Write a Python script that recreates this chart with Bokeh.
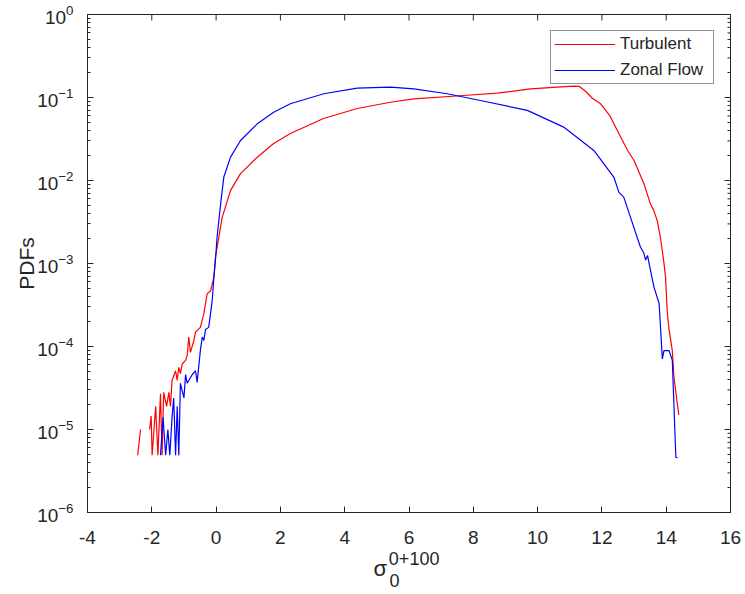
import numpy as np
from bokeh.plotting import figure
from bokeh.models import Range1d, FixedTicker, LinearAxis
from bokeh.embed import file_html
from bokeh.resources import INLINE

nan = float("nan")

# Turbulent PDF (red); nan = empty bin (log of zero -> gap)
turb_x = [-2.44, -2.35, -2.21, -2.07, -2.02, -1.99, -1.88, -1.81, -1.73, -1.68, -1.63,
          -1.54, -1.47, -1.42, -1.37, -1.26, -1.21, -1.16, -1.11, -1.05, -0.95, -0.90,
          -0.85, -0.80, -0.69, -0.64, -0.54, -0.49, -0.38, -0.28, -0.17, -0.07, -0.02,
          0.19, 0.45, 0.76, 1.28, 1.79, 2.31, 3.34, 4.39, 5.42, 6.15, 7.70, 8.74, 9.78,
          10.6, 11.13, 11.3, 11.5, 11.7, 11.96, 12.25, 12.48, 12.8, 13.0, 13.31, 13.51,
          13.61, 13.72, 13.82, 13.92, 13.98, 14.03, 14.08, 14.19, 14.24, 14.39]
turb_y = [4.9e-6, 1.0e-5, nan, 1.0e-5, 1.45e-5, 4.9e-6, 1.9e-5, 4.9e-6, 2.7e-5, 4.9e-6, 2.8e-5,
          1.9e-5, 2.8e-5, 1.9e-5, 3.9e-5, 5.1e-5, 3.9e-5, 5.6e-5, 4.7e-5, 6.2e-5, 6.8e-5, 7.8e-5,
          1.3e-4, 8.5e-5, 1.18e-4, 1.49e-4, 1.63e-4, 1.7e-4, 2.5e-4, 4.3e-4, 4.7e-4, 6.8e-4, 1.19e-3,
          3.6e-3, 7.6e-3, 0.0121, 0.0191, 0.0279, 0.0368, 0.0558, 0.0737, 0.0877, 0.0964, 0.1057,
          0.1127, 0.127, 0.133, 0.137, 0.136, 0.118, 0.098, 0.084, 0.060, 0.040, 0.023, 0.0174,
          0.0091, 0.0052, 0.0044, 0.0033, 2.07e-3, 1.09e-3, 6.8e-4, 2.7e-4, 1.7e-4, 8.9e-5,
          4.3e-5, 1.5e-5]

# Zonal Flow PDF (blue)
zonal_x = [-1.73, -1.65, -1.57, -1.50, -1.44, -1.37, -1.32, -1.26, -1.21, -1.16, -1.11,
           -1.00, -0.95, -0.90, -0.85, -0.74, -0.64, -0.59, -0.49, -0.43, -0.38, -0.33,
           -0.23, -0.12, -0.07, -0.02, 0.03, 0.14, 0.24, 0.45, 0.76, 1.28, 1.79, 2.31,
           3.35, 4.39, 5.42, 6.15, 7.19, 8.22, 9.68, 10.81, 11.75, 12.37, 12.53, 12.68,
           12.89, 13.20, 13.30, 13.36, 13.42, 13.48, 13.62, 13.78, 13.88, 13.93, 14.09,
           14.19, 14.30, 14.35]
zonal_y = [4.9e-6, 1.4e-5, 4.9e-6, 1.0e-5, 4.9e-6, 1.4e-5, 2.4e-5, 4.9e-6, 1.9e-5, 4.9e-6, 3.6e-5,
           2.4e-5, 4.6e-5, 3.6e-5, 3.9e-5, 4.6e-5, 5.1e-5, 3.7e-5, 8.9e-5, 1.3e-4, 1.18e-4, 1.6e-4,
           1.7e-4, 3.6e-4, 6.8e-4, 1.1e-3, 2.07e-3, 5.2e-3, 0.011, 0.0191, 0.0303, 0.0482, 0.0665,
           0.084, 0.111, 0.1295, 0.133, 0.127, 0.111, 0.092, 0.070, 0.044, 0.023, 0.011, 7.2e-3,
           6.3e-3, 3.6e-3, 1.57e-3, 1.35e-3, 1.1e-3, 1.25e-3, 0.95e-3, 5.2e-4, 3.3e-4, 7.1e-5,
           8.9e-5, 8.9e-5, 6.8e-5, 4.6e-6, 4.6e-6]

x_ticks = [-4, -2, 0, 2, 4, 6, 8, 10, 12, 14, 16]
y_ticks = [1e-6, 1e-5, 1e-4, 1e-3, 1e-2, 1e-1, 1.0]
y_minor = [m * 10.0 ** e for e in range(-6, 0) for m in range(2, 10)]

AX = "#262626"
FONT = "Liberation Sans"
X0, X1, Y0, Y1 = -4, 16, 1e-6, 1.0

p = figure(width=745, height=594, x_range=Range1d(X0, X1), y_range=Range1d(Y0, Y1),
           y_axis_type="log", output_backend="svg", toolbar_location=None,
           min_border_left=87, min_border_right=15, min_border_top=14, min_border_bottom=82)
p.grid.visible = False
p.outline_line_color = AX
p.background_fill_color = "white"
p.border_fill_color = "white"


def style(ax):
    ax.axis_line_color = AX
    ax.major_tick_in = 6
    ax.major_tick_out = 0
    ax.minor_tick_in = 3
    ax.minor_tick_out = 0
    ax.major_tick_line_color = AX
    ax.minor_tick_line_color = AX
    ax.major_label_text_font = FONT
    ax.major_label_text_font_size = "19px"
    ax.major_label_text_color = AX


xa = p.xaxis[0]
style(xa)
xa.ticker = FixedTicker(ticks=x_ticks)
xa.minor_tick_line_color = None
xa.major_label_standoff = 18
xa.major_label_overrides = {t: str(t) for t in x_ticks if t < 0}

ya = p.yaxis[0]
style(ya)
ya.ticker = FixedTicker(ticks=y_ticks, minor_ticks=y_minor)
ya.major_label_standoff = 14
ya.axis_label = "PDFs"
ya.axis_label_text_font = FONT
ya.axis_label_text_font_size = "21px"
ya.axis_label_text_font_style = "normal"
ya.axis_label_text_color = AX
ya.axis_label_standoff = -4

# x-axis title sigma_0^{0+100}: three text-only rows (superscript, sigma, subscript)
def text_row(pos, txt, size, standoff):
    ax = LinearAxis(ticker=FixedTicker(ticks=[pos]), major_label_overrides={pos: txt})
    ax.axis_line_color = None
    ax.major_tick_line_color = None
    ax.minor_tick_line_color = None
    ax.major_tick_in = 0
    ax.major_tick_out = 0
    ax.major_label_standoff = standoff
    ax.major_label_text_font = FONT
    ax.major_label_text_font_size = size
    ax.major_label_text_color = AX
    p.add_layout(ax, "below")


text_row(6.16, "0+100", "18px", 5)
text_row(5.11, "σ", "22px", -12)
text_row(5.55, "0", "18px", -10)

# ticks on the top and right edges of the box (half of each dash is clipped by the frame)
p.scatter(x=x_ticks, y=[Y1] * len(x_ticks), marker="dash", size=12, angle=np.pi / 2,
          line_color=AX, line_width=1)
p.scatter(x=[X1] * len(y_ticks), y=y_ticks, marker="dash", size=12,
          line_color=AX, line_width=1)
p.scatter(x=[X1] * len(y_minor), y=y_minor, marker="dash", size=6,
          line_color=AX, line_width=1)

p.line(turb_x, turb_y, color="#FF0000", line_width=1.2, legend_label="Turbulent")
p.line(zonal_x, zonal_y, color="#0000FF", line_width=1.2, legend_label="Zonal Flow")

lg = p.legend[0]
lg.location = "top_right"
lg.margin = 16
lg.padding = 3
lg.spacing = 6
lg.glyph_width = 61
lg.glyph_height = 20
lg.label_height = 20
lg.label_width = 90
lg.label_standoff = 5
lg.label_text_font = FONT
lg.label_text_font_size = "17px"
lg.label_text_color = AX
lg.border_line_color = AX
lg.border_line_width = 1
lg.background_fill_alpha = 1.0

open("out.html", "w").write(file_html(p, INLINE))
